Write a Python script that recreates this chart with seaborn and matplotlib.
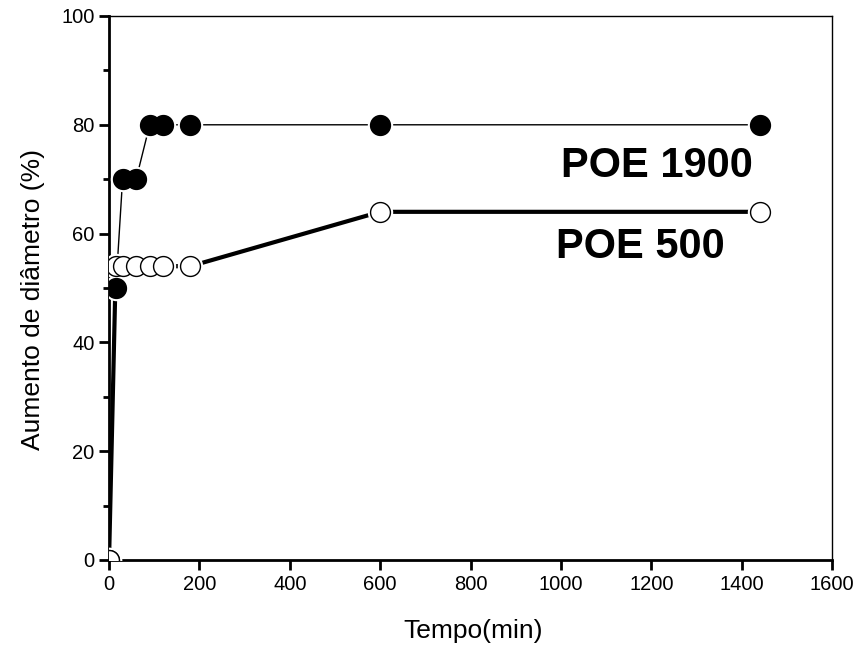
import matplotlib
matplotlib.use("Agg")
import matplotlib.pyplot as plt
from matplotlib.ticker import MultipleLocator
import seaborn as sns
import pandas as pd

# Swelling over time for two PEO molecular weights
tempo_1900 = [0, 15, 30, 60, 90, 120, 180, 600, 1440]
aumento_1900 = [0, 50, 70, 70, 80, 80, 80, 80, 80]

tempo_500 = [0, 15, 30, 60, 90, 120, 180, 600, 1440]
aumento_500 = [0, 54, 54, 54, 54, 54, 54, 64, 64]

x_ticks = [0, 200, 400, 600, 800, 1000, 1200, 1400, 1600]
y_ticks = [0, 20, 40, 60, 80, 100]

df1900 = pd.DataFrame({"t": tempo_1900, "a": aumento_1900})
df500 = pd.DataFrame({"t": tempo_500, "a": aumento_500})

sns.set_style("ticks")
plt.rcParams["font.family"] = ["Liberation Sans", "DejaVu Sans"]
plt.rcParams["text.color"] = "black"
plt.rcParams["axes.labelcolor"] = "black"

fig = plt.figure(figsize=(8.62, 6.5), dpi=100)
ax = fig.add_axes([0.1265, 0.1385, 0.9652 - 0.1265, 0.9754 - 0.1385])

# connecting lines
sns.lineplot(data=df1900, x="t", y="a", ax=ax, color="black", linewidth=1.0,
             sort=False, zorder=2)
sns.lineplot(data=df500, x="t", y="a", ax=ax, color="black", linewidth=3.0,
             sort=False, zorder=2)

# white halos leave a small gap between lines and symbols
for d in (df1900, df500):
    sns.scatterplot(data=d, x="t", y="a", ax=ax, s=18.3 ** 2, color="white",
                    linewidth=0, zorder=3)

sns.scatterplot(data=df1900, x="t", y="a", ax=ax, s=14.3 ** 2, color="black",
                edgecolor="black", linewidth=1.0, zorder=4)
sns.scatterplot(data=df500, x="t", y="a", ax=ax, s=14.3 ** 2, color="white",
                edgecolor="black", linewidth=1.0, zorder=5)

ax.set_xlim(0, 1600)
ax.set_ylim(0, 100)
ax.set_xticks(x_ticks)
ax.set_yticks(y_ticks)
ax.yaxis.set_minor_locator(MultipleLocator(10))
ax.tick_params(axis="both", which="major", direction="out", length=7, width=2,
               labelsize=14.5, color="black", labelcolor="black")
ax.tick_params(axis="y", which="minor", direction="out", length=4, width=2,
               color="black")

for side in ("left", "bottom"):
    ax.spines[side].set_linewidth(2)
for side in ("top", "right"):
    ax.spines[side].set_visible(True)
    ax.spines[side].set_linewidth(1)
for s in ax.spines.values():
    s.set_color("black")

ax.set_xlabel("Tempo(min)", fontsize=19)
ax.set_ylabel("Aumento de diâmetro (%)", fontsize=19)
ax.xaxis.set_label_coords(0.503, -0.108)
ax.yaxis.set_label_coords(-0.089, 0.478)

ax.text(1000, 72.5, "POE 1900", fontsize=30, fontweight="bold",
        ha="left", va="center")
ax.text(990, 57.5, "POE 500", fontsize=30, fontweight="bold",
        ha="left", va="center")

fig.savefig("out.png", dpi=100, facecolor="white")
